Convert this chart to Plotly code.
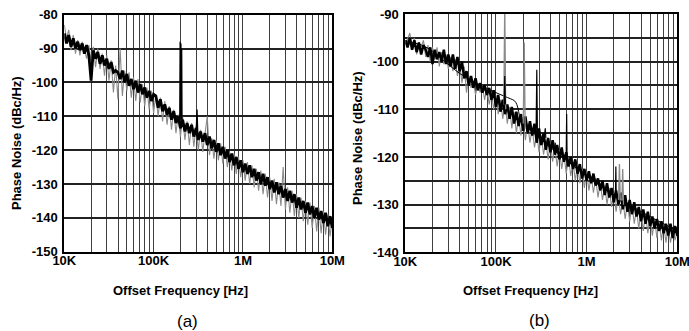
import plotly.graph_objects as go

# Frequency sampling grid: mantissas per decade (Hz multiplier)
MANT = [1.0, 1.059, 1.122, 1.189, 1.259, 1.334, 1.413, 1.496, 1.585, 1.679,
        1.778, 1.884, 1.995, 2.113, 2.239, 2.371, 2.512, 2.661, 2.818, 2.985,
        3.162, 3.350, 3.548, 3.758, 3.981, 4.217, 4.467, 4.732, 5.012, 5.309,
        5.623, 5.957, 6.310, 6.683, 7.079, 7.499, 7.943, 8.414, 8.913, 9.441]
DECADES = [1e4, 1e5, 1e6]
FREQ = [m * d for d in DECADES for m in MANT] + [1e7]

# Panel (a)
A_BLACK = [
    -85.5, -88.5, -86.0, -89.5, -87.0, -90.0, -88.0, -90.5, -88.5, -91.5,
    -89.0, -92.0, -99.5, -90.5, -93.0, -91.0, -94.5, -92.0, -95.0, -93.0,
    -96.0, -94.0, -97.0, -96.5, -97.0, -99.0, -96.5, -100.0, -97.5, -101.0,
    -99.0, -102.0, -99.5, -103.0, -100.5, -103.5, -101.5, -104.5, -102.5, -105.5,
    -103.5, -104.0, -107.5, -105.0, -108.5, -106.5, -109.5, -107.5, -111.0, -108.5,
    -112.0, -110.0, -113.5, -111.0, -114.5, -112.0, -115.0, -112.5, -116.0, -113.5,
    -117.0, -114.5, -117.5, -115.0, -118.5, -116.0, -119.5, -117.0, -120.5, -118.0,
    -121.5, -119.0, -122.5, -120.0, -123.5, -121.0, -124.5, -122.0, -125.5, -123.0,
    -126.5, -124.0, -127.0, -124.5, -128.0, -125.5, -129.0, -126.5, -130.0, -127.0,
    -130.5, -128.0, -131.5, -129.0, -132.5, -129.5, -133.0, -130.5, -134.0, -131.5,
    -135.0, -132.0, -135.5, -133.0, -137.0, -134.0, -137.5, -135.0, -138.5, -135.5,
    -139.0, -136.5, -140.0, -137.0, -140.5, -138.0, -141.5, -138.5, -142.5, -139.5,
    -143.0]
A_GRAY = [
    -83.0, -87.0, -84.5, -90.5, -86.0, -91.5, -87.5, -92.0, -88.0, -90.0,
    -93.0, -89.0, -94.0, -89.5, -95.5, -90.0, -96.0, -91.5, -98.0, -92.0,
    -99.5, -93.5, -103.0, -95.0, -105.0, -90.0, -104.0, -96.5, -102.5, -97.0,
    -104.5, -98.5, -105.5, -99.0, -106.0, -100.5, -107.0, -101.5, -108.0, -102.5,
    -109.0, -103.5, -110.0, -104.5, -111.5, -105.5, -112.5, -107.0, -114.0, -108.0,
    -115.0, -109.5, -116.0, -110.0, -117.0, -111.5, -118.5, -112.0, -119.0, -113.0,
    -120.0, -114.0, -120.5, -115.0, -110.0, -121.5, -116.5, -122.5, -117.0, -123.0,
    -118.0, -124.0, -119.0, -125.0, -120.5, -126.0, -121.0, -127.0, -122.0, -128.0,
    -123.0, -129.0, -123.5, -130.0, -124.5, -131.0, -125.5, -132.0, -126.0, -133.0,
    -127.0, -134.0, -128.0, -135.0, -128.5, -136.0, -129.5, -136.5, -125.0, -137.5,
    -131.0, -138.5, -132.0, -139.5, -133.0, -140.0, -134.0, -141.0, -135.0, -142.0,
    -135.5, -143.0, -136.5, -144.0, -137.0, -144.5, -138.0, -145.0, -139.0, -145.5,
    -140.0]
A_SPUR_F = [196e3, 198e3, 200e3, 202e3, 204e3, 206e3, 208e3, None, 300e3, 306e3, 312e3]
A_SPUR_V = [-111, -88, -110, -88.5, -111, -90, -112, None, -114, -108, -115]

# Panel (b)
B_BLACK = [
    -95.5, -97.0, -95.0, -97.5, -95.5, -98.0, -96.0, -98.5, -96.5, -97.5,
    -99.0, -97.0, -100.5, -97.5, -99.5, -98.0, -100.0, -97.5, -100.5, -98.5,
    -101.0, -98.5, -101.5, -99.0, -102.0, -100.0, -103.5, -102.0, -105.0, -103.0,
    -105.5, -103.5, -106.0, -104.5, -106.5, -105.0, -107.0, -105.5, -108.0, -106.0,
    -109.5, -107.0, -110.5, -108.0, -111.0, -109.0, -112.0, -109.5, -113.0, -110.5,
    -113.5, -111.0, -114.5, -111.5, -115.0, -112.5, -115.5, -113.0, -117.0, -114.0,
    -117.5, -115.0, -118.5, -116.0, -119.0, -116.5, -119.5, -117.5, -120.5, -118.0,
    -121.0, -119.0, -122.0, -120.0, -122.5, -120.5, -123.5, -121.5, -124.5, -122.5,
    -125.0, -123.0, -125.5, -123.5, -126.0, -124.5, -127.0, -125.0, -128.0, -125.5,
    -128.5, -126.5, -129.5, -127.0, -130.0, -127.5, -131.0, -128.0, -131.5, -129.0,
    -132.0, -129.5, -132.5, -130.5, -133.5, -131.0, -134.0, -131.5, -134.5, -132.5,
    -135.0, -133.0, -135.5, -133.5, -136.0, -134.0, -136.5, -134.0, -137.0, -134.5,
    -136.5]
B_GRAY = [
    -96.5, -95.0, -94.0, -97.0, -95.0, -98.5, -96.0, -97.0, -95.5, -99.0,
    -96.5, -100.0, -97.0, -99.5, -97.0, -101.0, -98.0, -100.5, -98.5, -101.5,
    -99.0, -102.0, -99.5, -103.0, -100.5, -104.5, -101.0, -106.5, -103.0, -105.5,
    -104.0, -107.0, -104.5, -106.5, -105.0, -108.0, -105.5, -109.0, -106.5, -110.0,
    -107.0, -111.0, -108.0, -112.0, -108.5, -113.0, -109.5, -114.0, -110.5, -115.0,
    -111.5, -115.5, -112.0, -116.5, -113.0, -117.0, -114.0, -118.0, -115.0, -119.0,
    -115.5, -119.5, -116.5, -120.5, -117.0, -121.0, -118.0, -122.0, -118.5, -122.5,
    -119.5, -123.5, -120.0, -124.0, -121.0, -125.0, -121.5, -125.5, -122.5, -126.5,
    -123.0, -127.0, -124.0, -127.5, -124.5, -128.5, -125.5, -129.0, -126.0, -130.0,
    -126.5, -130.5, -127.5, -131.5, -128.0, -132.0, -129.0, -133.0, -129.5, -133.5,
    -130.0, -134.0, -131.0, -135.0, -131.5, -135.5, -132.0, -136.0, -132.5, -136.5,
    -133.0, -137.0, -133.5, -137.5, -134.0, -138.0, -134.5, -138.0, -135.0, -137.5,
    -135.5]
B_SMOOTH_F = [10e3, 15e3, 20e3, 27e3, 40e3, 62e3, 100e3, 145e3, 160e3, 170e3, 178e3,
              185e3, 200e3, 300e3, 500e3, 1e6, 2e6, 5e6, 10e6]
B_SMOOTH_V = [-95.6, -96.5, -97.8, -99.9, -102.5, -104.6, -106.5, -107.8, -108.2, -109.0,
              -110.5, -112.0, -113.0, -116.0, -119.5, -124.0, -128.0, -132.5, -135.5]
B_SPUR_GRAY_F = [122e3, 125e3, 128e3, None, 200e3, 205e3, 210e3, None,
                 2.25e6, 2.3e6, 2.35e6, 2.45e6, 2.5e6, 2.55e6]
B_SPUR_GRAY_V = [-109, -88, -110, None, -113, -96, -114, None,
                 -129, -121.5, -129, -129, -122.5, -130]
B_SPUR_BLK_F = [123e3, 125e3, 127e3, None, 277e3, 282e3, 287e3, None, 595e3, 602e3, 609e3,
                None, 2.08e6, 2.1e6, 2.12e6, None, 345e3, 350e3, 355e3, None, 445e3, 450e3, 455e3]
B_SPUR_BLK_V = [-109, -103, -109, None, -115, -101.7, -116, None, -120, -111, -121,
                None, -128, -122, -128, None, -115, -114, -116, None, -118, -117, -118.5]

X_TICKVALS = [m * d for d in DECADES for m in range(1, 10)] + [1e7]
X_TICKTEXT = ["10K" if v == 1e4 else "100K" if v == 1e5 else "1M" if v == 1e6 else "" for v in X_TICKVALS[:-1]] + ["10M"]
A_YTICKS = [-150, -140, -130, -120, -110, -100, -90, -80]
B_YTICKS = [-140, -135, -130, -125, -120, -115, -110, -105, -100, -95, -90]

FONT = "Liberation Sans, Arial, sans-serif"
GRAY = "#8a8a8a"

fig = go.Figure()
# panel a
fig.add_trace(go.Scatter(x=FREQ, y=A_GRAY, mode="lines", line=dict(color=GRAY, width=1.1), xaxis="x", yaxis="y"))
fig.add_trace(go.Scatter(x=FREQ, y=A_BLACK, mode="lines", line=dict(color="black", width=2.8), xaxis="x", yaxis="y"))
fig.add_trace(go.Scatter(x=A_SPUR_F, y=A_SPUR_V, mode="lines", line=dict(color="black", width=1.3), xaxis="x", yaxis="y", connectgaps=False))
# panel b
fig.add_trace(go.Scatter(x=FREQ, y=B_GRAY, mode="lines", line=dict(color=GRAY, width=1.1), xaxis="x2", yaxis="y2"))
fig.add_trace(go.Scatter(x=FREQ, y=B_BLACK, mode="lines", line=dict(color="black", width=2.5), xaxis="x2", yaxis="y2"))
fig.add_trace(go.Scatter(x=B_SMOOTH_F, y=B_SMOOTH_V, mode="lines", line=dict(color="black", width=1, shape="spline"), xaxis="x2", yaxis="y2"))
fig.add_trace(go.Scatter(x=B_SPUR_GRAY_F, y=B_SPUR_GRAY_V, mode="lines", line=dict(color=GRAY, width=1.3), xaxis="x2", yaxis="y2", connectgaps=False))
fig.add_trace(go.Scatter(x=B_SPUR_BLK_F, y=B_SPUR_BLK_V, mode="lines", line=dict(color="black", width=1.2), xaxis="x2", yaxis="y2", connectgaps=False))

W, H = 689, 331
tickfont = dict(family=FONT, size=13, color="black", weight="bold")

def xax(domain, anchor):
    return dict(type="log", range=[4, 7], domain=domain, anchor=anchor, automargin=False,
                tickvals=X_TICKVALS, ticktext=X_TICKTEXT, ticks="", tickfont=tickfont,
                ticklabelstandoff=-4, ticklabeloverflow="allow",
                showgrid=True, gridcolor="#404040", gridwidth=1.2,
                showline=True, linecolor="black", linewidth=2, mirror=True, zeroline=False)

def yax(domain, anchor, rng, tv):
    return dict(range=rng, domain=domain, anchor=anchor, tickvals=tv, automargin=False,
                ticktext=[str(v) if v % 10 == 0 else "" for v in tv], ticks="", tickfont=tickfont,
                ticklabelstandoff=2, ticklabeloverflow="allow",
                showgrid=True, gridcolor="#222222", gridwidth=2,
                showline=True, linecolor="black", linewidth=2, mirror=True, zeroline=False)

fig.update_layout(
    width=W, height=H, margin=dict(l=0, r=0, t=0, b=0, autoexpand=False),
    paper_bgcolor="white", plot_bgcolor="white", showlegend=False,
    xaxis=xax([64.3 / W, 332.3 / W], "y"),
    yaxis=yax([(H - 251.7) / H, (H - 14.7) / H], "x", [-150, -80], A_YTICKS),
    xaxis2=xax([405.3 / W, 677.3 / W], "y2"),
    yaxis2=yax([(H - 252.3) / H, (H - 14.0) / H], "x2", [-140, -90], B_YTICKS),
)

def ann(text, x, y, size, bold=True, angle=0):
    fig.add_annotation(text=text, x=x / W, y=(H - y) / H, xref="paper", yref="paper",
                       showarrow=False, textangle=angle, xanchor="center", yanchor="middle",
                       font=dict(family=FONT, size=size, color="black", weight="bold" if bold else "normal"))

ann("Phase Noise (dBc/Hz)", 17, 143, 13, angle=-90)
ann("Phase Noise (dBc/Hz)", 357, 138, 13, angle=-90)
ann("Offset Frequency [Hz]", 180, 290, 13)
ann("Offset Frequency [Hz]", 530, 290, 13)
ann("(a)", 187, 321, 17, bold=False)
ann("(b)", 539, 320, 17, bold=False)

fig.write_html("out.html", config={"displayModeBar": False},
               post_script="document.body.style.margin='0';document.body.style.overflow='hidden';")
